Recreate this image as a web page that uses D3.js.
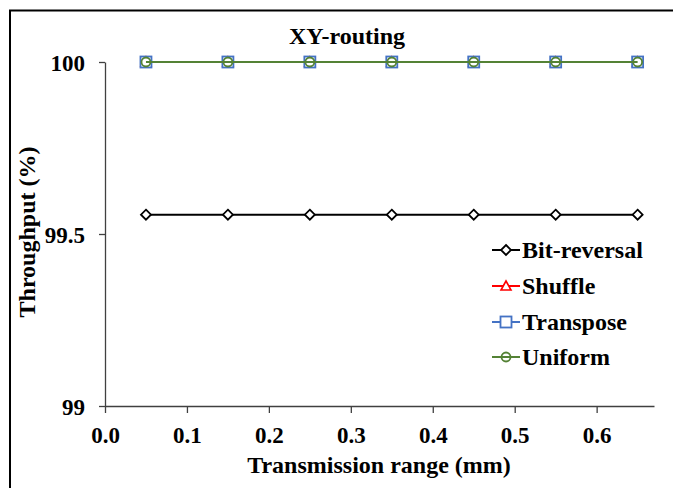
<!DOCTYPE html>
<html><head><meta charset="utf-8">
<script src="https://cdn.jsdelivr.net/npm/d3@7"></script>
<style>body{margin:0;background:#fff}svg{display:block}text{font-family:"Liberation Serif","Times New Roman",serif;font-weight:bold;fill:#000}</style>
</head><body><svg id="c" width="673" height="488"></svg>
<script>
const xValues = [0.05, 0.15, 0.25, 0.35, 0.45, 0.55, 0.65];
const bitReversal = [99.556, 99.556, 99.556, 99.556, 99.556, 99.556, 99.556];
const shuffle = [100, 100, 100, 100, 100, 100, 100];
const transpose = [100, 100, 100, 100, 100, 100, 100];
const uniform = [100, 100, 100, 100, 100, 100, 100];
const seriesNames = ["Bit-reversal", "Shuffle", "Transpose", "Uniform"];
const xTicks = [0.0, 0.1, 0.2, 0.3, 0.4, 0.5, 0.6];
const yTicks = [99, 99.5, 100];

const series = [
  {name: seriesNames[0], values: bitReversal, color: "#000000", marker: "diamond"},
  {name: seriesNames[1], values: shuffle, color: "#ff0000", marker: "triangle"},
  {name: seriesNames[2], values: transpose, color: "#4472c4", marker: "square"},
  {name: seriesNames[3], values: uniform, color: "#548235", marker: "circle"}
];

const svg = d3.select("#c");
svg.append("line").attr("x1",9).attr("x2",673).attr("y1",10.5).attr("y2",10.5).attr("stroke","#000").attr("stroke-width",2);
svg.append("line").attr("x1",10).attr("x2",10).attr("y1",10).attr("y2",488).attr("stroke","#000").attr("stroke-width",2);

const x = d3.scaleLinear().domain([0, 0.67]).range([105, 654]);
const y = d3.scaleLinear().domain([99, 100]).range([406, 62]);

const xAxis = svg.append("g").attr("transform","translate(0,406)")
  .call(d3.axisBottom(x).tickValues(xTicks).tickFormat(d3.format(".1f")).tickSize(7).tickSizeOuter(0));
const yAxis = svg.append("g").attr("transform","translate(105,0)")
  .call(d3.axisLeft(y).tickValues(yTicks).tickFormat(d => d===99.5? "99.5" : d3.format("d")(d)).tickSize(6).tickSizeOuter(0));
[xAxis, yAxis].forEach(g => {
  g.select(".domain").attr("stroke","#404040").attr("stroke-width",1.3);
  g.selectAll(".tick line").attr("stroke","#404040").attr("stroke-width",1.3);
  g.selectAll("text").style("font-family",'"Liberation Serif",serif').style("font-weight","bold").style("font-size","23px").attr("fill","#000");
});
xAxis.selectAll("text").attr("y",37).attr("dy","0");
yAxis.selectAll("text").attr("x",-20).attr("dy","0.35em");

svg.append("text").attr("x",347).attr("y",44).attr("text-anchor","middle").style("font-size","24px").text("XY-routing");
svg.append("text").attr("x",379).attr("y",473).attr("text-anchor","middle").style("font-size","24px").text("Transmission range (mm)");
svg.append("text").attr("transform","translate(35,232) rotate(-90)").attr("text-anchor","middle").style("font-size","24px").text("Throughput (%)");

function drawMarker(g, type, color, cx, cy) {
  if (type === "diamond") {
    g.append("path").attr("d", "M0,-5L5,0L0,5L-5,0Z").attr("transform",`translate(${cx},${cy})`)
      .attr("fill","#fff").attr("stroke",color).attr("stroke-width",1.8);
  } else if (type === "square") {
    g.append("rect").attr("x",cx-5.5).attr("y",cy-5.5).attr("width",11).attr("height",11)
      .attr("fill","#fff").attr("stroke",color).attr("stroke-width",1.8);
  } else if (type === "circle") {
    g.append("circle").attr("cx",cx).attr("cy",cy).attr("r",4.5)
      .attr("fill","none").attr("stroke",color).attr("stroke-width",1.8);
  } else if (type === "triangle") {
    g.append("path").attr("d", "M0,-5L5,4L-5,4Z").attr("transform",`translate(${cx},${cy})`)
      .attr("fill","#fff").attr("stroke",color).attr("stroke-width",1.6);
  }
}

const line = d3.line().x((d,i) => x(xValues[i])).y(d => y(d));
series.forEach(s => {
  const g = svg.append("g");
  g.append("path").datum(s.values).attr("d", line).attr("fill","none").attr("stroke",s.color).attr("stroke-width",2);
  s.values.forEach((v,i) => drawMarker(g, s.marker, s.color, x(xValues[i]), y(v)));
});

const legendY = [250, 286, 322, 357];
series.forEach((s,i) => {
  const g = svg.append("g");
  const ly = legendY[i];
  g.append("line").attr("x1",492).attr("x2",520).attr("y1",ly).attr("y2",ly).attr("stroke",s.color).attr("stroke-width",2);
  drawMarker(g, s.marker, s.color, 506, ly);
  g.append("text").attr("x",522).attr("y",ly).attr("dy","0.35em").style("font-size","24px").text(s.name);
});
</script></body></html>
